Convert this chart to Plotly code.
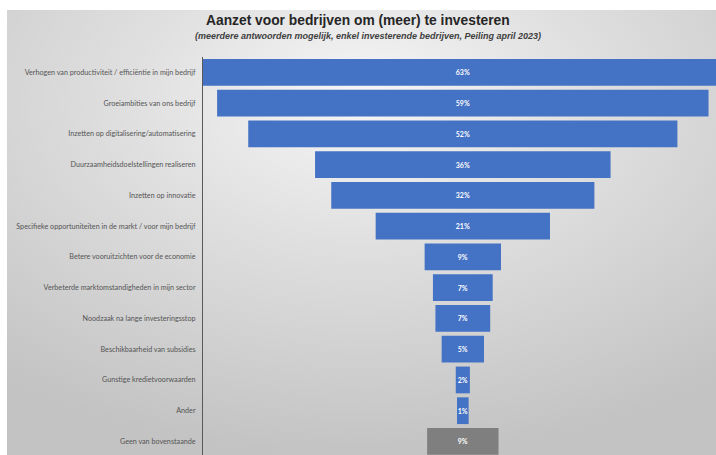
import base64
import plotly.graph_objects as go

categories = [
    "Verhogen van productiviteit / efficiëntie in mijn bedrijf",
    "Groeiambities van ons bedrijf",
    "Inzetten op digitalisering/automatisering",
    "Duurzaamheidsdoelstellingen realiseren",
    "Inzetten op innovatie",
    "Specifieke opportuniteiten in de markt / voor mijn bedrijf",
    "Betere vooruitzichten voor de economie",
    "Verbeterde marktomstandigheden in mijn sector",
    "Noodzaak na lange investeringsstop",
    "Beschikbaarheid van subsidies",
    "Gunstige kredietvoorwaarden",
    "Ander",
    "Geen van bovenstaande",
]
values = [63.0, 59.2, 51.7, 35.6, 31.7, 21.0, 9.2, 7.2, 6.6, 5.1, 1.7, 1.4, 8.6]
bar_colors = ["#4472C4"] * 12 + ["#7F7F7F"]

title_text = "Aanzet voor bedrijven om (meer) te investeren"
subtitle_text = "(meerdere antwoorden mogelijk, enkel investerende bedrijven, Peiling april 2023)"

W, H = 716, 455
ML, MR, MT, MB = 203, 0, 57, 0
pw, ph = W - ML - MR, H - MT - MB

# background gradient (frame starts at x=7, y=10)
bx0, by0 = 7, 10
bw, bh = W - bx0, H - by0
svg = f'''<svg xmlns="http://www.w3.org/2000/svg" width="{bw}" height="{bh}" viewBox="0 0 {bw} {bh}" preserveAspectRatio="none">
<defs><radialGradient id="g" cx="0.5" cy="0.2" r="0.8" gradientUnits="objectBoundingBox">
<stop offset="0" stop-color="#f6f6f6"/><stop offset="0.4" stop-color="#e0e0e0"/><stop offset="1" stop-color="#c3c3c3"/>
</radialGradient></defs><rect x="0" y="0" width="{bw}" height="{bh}" fill="url(#g)"/></svg>'''
src = "data:image/svg+xml;base64," + base64.b64encode(svg.encode()).decode()

fig = go.Figure(go.Funnel(
    x=values,
    y=categories,
    marker=dict(color=bar_colors, line=dict(width=0)),
    texttemplate="<b>%{x:.0f}%</b>",
    textposition="inside",
    insidetextanchor="middle",
    constraintext="none",
    textangle=0,
    textfont=dict(color="white", size=7, family="Lato"),
    connector=dict(visible=False),
    showlegend=False,
))

fig.update_layout(
    width=W, height=H,
    margin=dict(l=ML, r=MR, t=MT, b=MB, pad=0, autoexpand=False),
    paper_bgcolor="white",
    plot_bgcolor="rgba(0,0,0,0)",
    funnelgap=0.13,
    xaxis=dict(visible=False, range=[-31.3, 30.5], automargin=False),
    yaxis=dict(
        automargin=False,
        showline=True, linecolor="#595959", linewidth=1,
        ticks="", ticklabelstandoff=5,
        tickfont=dict(family="Lato", size=7.2, color="#555555"),
        range=[12.44, -0.5], showgrid=False, zeroline=False,
    ),
    images=[dict(
        source=src, xref="paper", yref="paper",
        x=(bx0 - ML) / pw, y=(H - MB - by0) / ph,
        sizex=bw / pw, sizey=bh / ph,
        xanchor="left", yanchor="top", sizing="stretch", layer="below",
    )],
    annotations=[
        dict(text=f"<b>{title_text}</b>", xref="paper", yref="paper",
             x=(358 - ML) / pw, y=(H - MB - 20) / ph, xanchor="center", yanchor="middle",
             showarrow=False, font=dict(family="Liberation Sans", size=13.8, color="#262626")),
        dict(text=f"<b><i>{subtitle_text}</i></b>", xref="paper", yref="paper",
             x=(368 - ML) / pw, y=(H - MB - 36) / ph, xanchor="center", yanchor="middle",
             showarrow=False, font=dict(family="Liberation Sans", size=9, color="#404040")),
    ],
)

fig.write_html("out.html", config={"displayModeBar": False},
               post_script="document.body.style.margin='0';")
